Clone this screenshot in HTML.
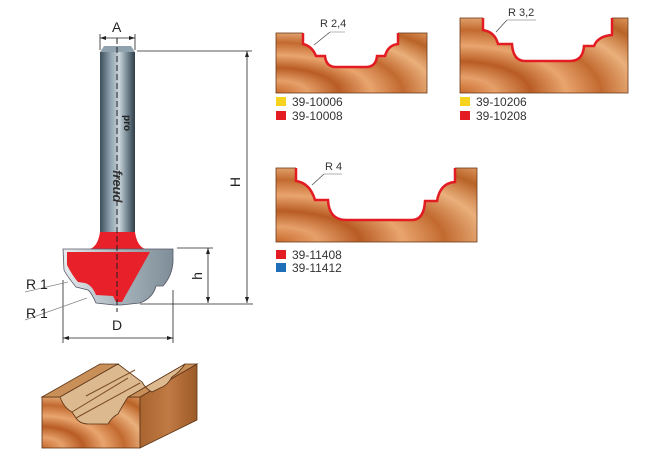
<!DOCTYPE html>
<html><head><meta charset="utf-8"><style>
html,body{margin:0;padding:0;background:#fff;}
svg{display:block;font-family:"Liberation Sans",sans-serif;}
</style></head><body>
<svg width="651" height="467" viewBox="0 0 651 467" xmlns="http://www.w3.org/2000/svg">
<defs>
<linearGradient id="sh" x1="0" x2="1" y1="0" y2="0">
<stop offset="0" stop-color="#3e4f5c"/><stop offset="0.3" stop-color="#8fa2ae"/><stop offset="0.55" stop-color="#c9d4da"/><stop offset="0.8" stop-color="#6d808c"/><stop offset="1" stop-color="#2f3d47"/></linearGradient>
<linearGradient id="bl" x1="0" x2="1" y1="0" y2="0">
<stop offset="0" stop-color="#e6ebee"/><stop offset="0.5" stop-color="#a8b5bd"/><stop offset="1" stop-color="#7e8d97"/></linearGradient>
<radialGradient id="wd" cx="0" cy="1" r="1.4">
<stop offset="0" stop-color="#c96a2c"/><stop offset="0.15" stop-color="#e6a06a"/><stop offset="0.3" stop-color="#b85c24"/><stop offset="0.45" stop-color="#e9a56e"/><stop offset="0.6" stop-color="#c26a30"/><stop offset="0.75" stop-color="#eab07c"/><stop offset="0.9" stop-color="#b96327"/><stop offset="1" stop-color="#d88e55"/></radialGradient>
<linearGradient id="sd" x1="0" x2="1" y1="0" y2="0">
<stop offset="0" stop-color="#a8652f"/><stop offset="0.5" stop-color="#c07a44"/><stop offset="1" stop-color="#9c5a28"/></linearGradient>
</defs>

<!-- Router bit -->
<rect x="100" y="52" width="35" height="182" fill="url(#sh)"/>
<path d="M100,52 L104,46 L131,46 L135,52 Z" fill="#8fa2ae"/>
<text x="0" y="0" transform="translate(113,170) rotate(90)" font-size="13" font-weight="bold" font-style="italic" fill="#333">freud</text>
<text x="0" y="0" transform="translate(124,115) rotate(90)" font-size="10" font-weight="bold" fill="#222">pro</text>
<path d="M100,232 Q98,246 90,249 L145,249 Q137,246 135,232 Z" fill="#e8202a"/>
<path d="M63,249 L173,249 L173,262 Q172,276 163,286 L156,286 Q153,298 140,303 L121,305 L114,305 L96,303 Q91,292 88,290 L76,287 Q67,276 64,270 Z" fill="url(#bl)" stroke="#556" stroke-width="0.8"/>
<path d="M67,252 L150,252 L122,302 L116,302 L113,296 L96,295 Q92,285 85,283 L78,282 Q72,275 67,265 Z" fill="#e8202a"/>
<line x1="117" y1="38" x2="117" y2="312" stroke="#222" stroke-width="1" stroke-dasharray="6,3"/>

<g stroke="#222" stroke-width="0.8" fill="none">
<line x1="100" y1="34" x2="100" y2="50"/><line x1="135" y1="34" x2="135" y2="50"/>
<line x1="100" y1="38" x2="135" y2="38"/>
<line x1="137" y1="51" x2="252" y2="51"/>
<line x1="247" y1="51" x2="247" y2="303"/>
<line x1="177" y1="248" x2="213" y2="248"/>
<line x1="208" y1="248" x2="208" y2="303"/>
<line x1="140" y1="304" x2="253" y2="304"/>
<line x1="63" y1="280" x2="63" y2="343"/><line x1="173" y1="290" x2="173" y2="343"/>
<line x1="63" y1="338" x2="173" y2="338"/>
<line x1="25" y1="292" x2="68" y2="282" stroke="#888"/>
<line x1="25" y1="320" x2="87" y2="298" stroke="#888"/>
</g>
<g fill="#222">
<path d="M100,38 l6,-2 v4z"/><path d="M135,38 l-6,-2 v4z"/>
<path d="M247,51 l-2,6 h4z"/><path d="M247,303 l-2,-6 h4z"/>
<path d="M208,248 l-2,6 h4z"/><path d="M208,303 l-2,-6 h4z"/>
<path d="M63,338 l6,-2 v4z"/><path d="M173,338 l-6,-2 v4z"/>
</g>
<g font-size="14" fill="#222">
<text x="112" y="32">A</text>
<text x="240" y="182" transform="rotate(-90 240 182)" text-anchor="middle">H</text>
<text x="202" y="276" transform="rotate(-90 202 276)" text-anchor="middle">h</text>
<text x="112" y="330">D</text>
<text x="26" y="289">R 1</text>
<text x="26" y="318">R 1</text>
</g>

<!-- Panel 1 -->
<rect x="276" y="33" width="151" height="60" fill="url(#wd)" stroke="#6b3a1a" stroke-width="0.8"/>
<path d="M303,32 L303,44 Q312,46 316,56 L325,56 Q326,67 336,67 L366,67 Q376,67 377,56 L385,56 Q388,45 398,44 L398,32 Z" fill="#fff"/>
<path d="M303,33 L303,44 Q312,46 316,56 L325,56 Q326,67 336,67 L366,67 Q376,67 377,56 L385,56 Q388,45 398,44 L398,33" fill="none" stroke="#e31b23" stroke-width="2.5"/>
<line x1="314" y1="45" x2="330" y2="32" stroke="#444" stroke-width="0.7"/><line x1="330" y1="32" x2="345" y2="32" stroke="#999" stroke-width="0.7"/>
<text x="320" y="27" font-size="11" fill="#333">R 2,4</text>

<!-- Panel 2 -->
<rect x="460" y="18" width="168" height="75" fill="url(#wd)" stroke="#6b3a1a" stroke-width="0.8"/>
<path d="M483,17 L483,30 Q495,32 498,44 L512,44 Q513,61 525,61 L570,61 Q583,61 584,46 L594,46 Q598,36 612,35 L612,17 Z" fill="#fff"/>
<path d="M483,18 L483,30 Q495,32 498,44 L512,44 Q513,61 525,61 L570,61 Q583,61 584,46 L594,46 Q598,36 612,35 L612,18" fill="none" stroke="#e31b23" stroke-width="2.5"/>
<line x1="496" y1="32" x2="507" y2="20" stroke="#444" stroke-width="0.7"/><line x1="507" y1="20" x2="536" y2="20" stroke="#999" stroke-width="0.7"/>
<text x="508" y="16" font-size="11" fill="#333">R 3,2</text>

<!-- Panel 3 -->
<rect x="276" y="168" width="201" height="74" fill="url(#wd)" stroke="#6b3a1a" stroke-width="0.8"/>
<path d="M296,167 L296,181 Q310,183 315,200 L328,200 Q329,220 346,220 L412,220 Q424,220 425,201 L437,201 Q440,183 455,182 L455,167 Z" fill="#fff"/>
<path d="M296,168 L296,181 Q310,183 315,200 L328,200 Q329,220 346,220 L412,220 Q424,220 425,201 L437,201 Q440,183 455,182 L455,168" fill="none" stroke="#e31b23" stroke-width="2.5"/>
<line x1="312" y1="185" x2="324" y2="174" stroke="#444" stroke-width="0.7"/><line x1="324" y1="174" x2="342" y2="174" stroke="#999" stroke-width="0.7"/>
<text x="325" y="170" font-size="11" fill="#333">R 4</text>

<g font-size="12" fill="#333">
<rect x="276" y="97" width="10" height="9" fill="#f5d31f"/><text x="292" y="106">39-10006</text>
<rect x="276" y="111" width="10" height="9" fill="#e31b23"/><text x="292" y="120">39-10008</text>
<rect x="460" y="97" width="10" height="9" fill="#f5d31f"/><text x="476" y="106">39-10206</text>
<rect x="460" y="111" width="10" height="9" fill="#e31b23"/><text x="476" y="120">39-10208</text>
<rect x="276" y="250" width="10" height="9" fill="#e31b23"/><text x="292" y="259">39-11408</text>
<rect x="276" y="263" width="10" height="9" fill="#1f6fb8"/><text x="292" y="272">39-11412</text>
</g>

<!-- bottom block -->
<rect x="42" y="397" width="98" height="51" fill="url(#wd)" stroke="#5a3215" stroke-width="0.8"/>
<path d="M140,397 L197,364 L197,420 L140,448 Z" fill="url(#sd)" stroke="#5a3215" stroke-width="0.8"/>
<path d="M42,397 L60,397 L118,364 L100,364 Z" fill="#c98f58" stroke="#5a3215" stroke-width="0.8"/>
<path d="M128,397 L140,397 L197,364 L185,364 Z" fill="#c98f58" stroke="#5a3215" stroke-width="0.8"/>
<path d="M60,397 Q64,408 72,412 L76,418 Q80,424 88,424 L108,424 Q112,417 118,414 Q124,403 128,397 L185,364 Q180,372 172,377 Q167,386 160,388 L152,392 Q146,389 142,382 L118,364 Z" fill="#dcb98f" stroke="#5a3215" stroke-width="0.8"/>
<path d="M72,412 L128,378 M76,418 L140,383 M86,396 L135,370" stroke="#7a4a22" stroke-width="1" fill="none"/>
</svg>
</body></html>
